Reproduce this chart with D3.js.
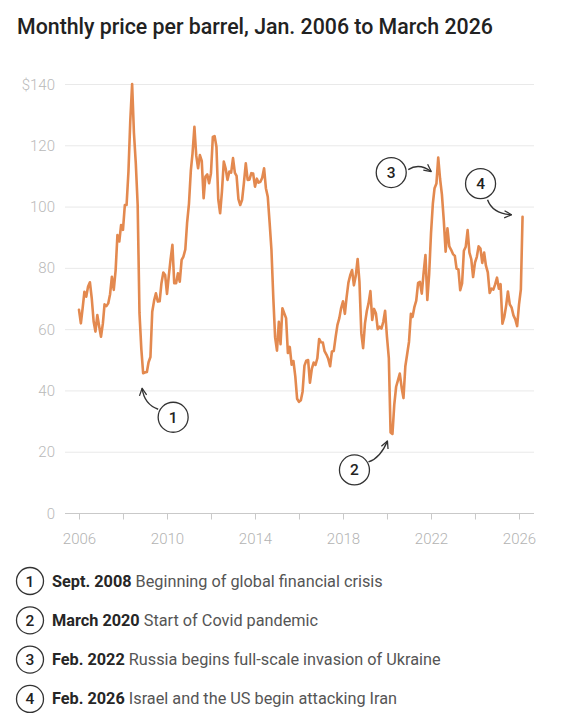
<!DOCTYPE html>
<html>
<head>
<meta charset="utf-8">
<script src="https://cdn.jsdelivr.net/npm/d3@7"></script>
<style>
  body { margin: 0; background: #fff; }
  svg text { font-family: Roboto, "Helvetica Neue", Arial, sans-serif; }
</style>
</head>
<body>
<div class="canvas"></div>
<script>
// Month-end price per barrel, one value per month from Jan. 2006
const firstMonth = new Date(2006, 0, 1);
const prices = [
  66.3, 61.9, 66.6, 72.2, 70.6, 73.9, 75.3, 70.0, 62.5, 59.2, 64.6, 61.0,        // 2006
  57.5, 61.8, 68.1, 67.5, 68.4, 71.4, 77.1, 72.8, 79.2, 90.7, 88.6, 94.0,        // 2007
  92.4, 100.5, 100.5, 111.4, 127.8, 140.0, 124.1, 114.1, 100.6, 65.3, 53.5, 45.6, // 2008
  45.9, 46.0, 49.2, 50.9, 65.7, 69.3, 71.7, 69.0, 69.1, 75.0, 78.5, 77.7,        // 2009
  71.5, 77.6, 82.7, 87.5, 75.0, 75.0, 78.2, 75.5, 82.6, 83.7, 86.0, 94.8,        // 2010
  101.0, 111.8, 117.4, 126.0, 116.7, 112.5, 116.8, 114.9, 102.7, 109.8, 110.5, 107.6, // 2011
  110.9, 122.7, 123.0, 119.5, 102.4, 97.8, 104.9, 114.7, 112.4, 108.7, 111.4, 111.1, // 2012
  115.8, 111.0, 110.0, 102.4, 100.5, 102.2, 107.7, 114.1, 108.7, 108.8, 110.9, 110.8, // 2013
  106.5, 109.1, 107.8, 108.1, 109.4, 112.5, 106.0, 103.2, 94.7, 85.9, 70.2, 57.3, // 2014
  53.0, 62.4, 55.1, 66.8, 65.2, 63.6, 52.2, 54.2, 48.4, 49.6, 44.6, 37.3,        // 2015
  36.3, 36.8, 39.6, 48.1, 49.7, 49.9, 42.5, 47.0, 49.1, 48.3, 50.5, 56.8,        // 2016
  55.7, 55.6, 52.8, 51.7, 50.3, 47.9, 52.7, 52.9, 57.5, 61.4, 63.6, 66.9,        // 2017
  69.1, 65.0, 70.3, 75.2, 77.6, 79.3, 74.3, 77.4, 82.9, 75.5, 58.7, 53.8,        // 2018
  61.9, 66.0, 68.4, 72.4, 63.0, 66.6, 65.2, 60.0, 60.8, 60.2, 62.4, 66.0,        // 2019
  57.5, 50.5, 26.3, 25.8, 35.3, 41.2, 43.3, 45.5, 40.9, 37.5, 47.9, 51.8,        // 2020
  55.9, 65.0, 64.0, 67.3, 69.3, 75.1, 75.4, 71.6, 78.5, 84.2, 69.5, 77.8,        // 2021
  91.2, 101.0, 106.0, 107.5, 116.0, 109.0, 104.0, 95.6, 85.3, 92.9, 87.0, 85.9,  // 2022
  84.5, 83.9, 79.8, 79.5, 72.7, 74.9, 85.6, 86.9, 92.3, 85.0, 82.8, 77.0,        // 2023
  81.7, 83.6, 87.0, 86.3, 81.6, 85.0, 80.7, 78.5, 71.8, 73.2, 72.9, 74.6,        // 2024
  76.8, 73.2, 74.7, 61.8, 63.9, 67.6, 72.3, 68.1, 67.0, 64.5, 63.2, 61.0,        // 2025
  68.0, 73.0, 96.7                                                               // 2026
];

const priceTicks = [0, 20, 40, 60, 80, 100, 120, 140];
const tickYears = [2006, 2008, 2010, 2012, 2014, 2016, 2018, 2020, 2022, 2024, 2026];
const labelYears = [2006, 2010, 2014, 2018, 2022, 2026];

const noteNumbers = ['1', '2', '3', '4'];
const noteMonths = [35, 171, 196, 242];   // index into prices the note refers to
const noteDates = ['Sept. 2008', 'March 2020', 'Feb. 2022', 'Feb. 2026'];
const noteTexts = [
  'Beginning of global financial crisis',
  'Start of Covid pandemic',
  'Russia begins full-scale invasion of Ukraine',
  'Israel and the US begin attacking Iran'
];

const dims = { width: 562, height: 720, gridLeft: 65, gridRight: 534, top: 84, bottom: 513 };
const lineColour = '#e3894f';

const svg = d3.select('.canvas')
  .append('svg')
  .attr('width', dims.width)
  .attr('height', dims.height);

const data = prices.map((value, i) => ({ date: d3.timeMonth.offset(firstMonth, i), value }));

const x = d3.scaleTime()
  .domain([new Date(2006, 0, 1), new Date(2026, 0, 1)])
  .range([79, 519]);

const y = d3.scaleLinear()
  .domain([0, 140])
  .range([dims.bottom, dims.top]);

// Title, stretched to the measured width of the original
const title = svg.append('text')
  .attr('x', 17)
  .attr('y', 34)
  .attr('fill', '#222')
  .attr('font-weight', 500)
  .attr('font-size', 20)
  .text('Monthly price per barrel, Jan. 2006 to March 2026');
const titleLen = title.node().getComputedTextLength();
title.attr('font-size', 20 * 476 / titleLen);

// Grid and y labels
const grid = svg.append('g');
grid.selectAll('line')
  .data(priceTicks)
  .enter()
  .append('line')
    .attr('x1', dims.gridLeft)
    .attr('x2', dims.gridRight)
    .attr('y1', d => y(d) + 0.5)
    .attr('y2', d => y(d) + 0.5)
    .attr('stroke', d => d === 0 ? '#c9c9c9' : '#e9e9e9')
    .attr('stroke-width', 1);

grid.selectAll('text')
  .data(priceTicks)
  .enter()
  .append('text')
    .attr('x', 55)
    .attr('y', d => y(d) + 5.5)
    .attr('text-anchor', 'end')
    .attr('fill', '#b9b9b9')
    .attr('font-size', 15)
    .attr('font-weight', 300)
    .text(d => d === 140 ? '$140' : d);

// X axis ticks and labels
const xAxis = d3.axisBottom(x)
  .tickValues(tickYears.map(yr => new Date(yr, 0, 1)))
  .tickSize(6)
  .tickPadding(14)
  .tickFormat(d => labelYears.includes(d.getFullYear()) ? d.getFullYear() : '');

const xAxisGroup = svg.append('g')
  .attr('transform', `translate(0, ${dims.bottom + 0.5})`)
  .call(xAxis);

xAxisGroup.select('.domain').remove();
xAxisGroup.selectAll('line').attr('stroke', '#c9c9c9');
xAxisGroup.selectAll('text')
  .attr('fill', '#b3b3b3')
  .attr('font-size', 15)
  .attr('font-weight', 300)
  .attr('font-family', null);

// Price line
const line = d3.line()
  .x(d => x(d.date))
  .y(d => y(d.value));

svg.append('path')
  .datum(data)
  .attr('fill', 'none')
  .attr('stroke', lineColour)
  .attr('stroke-width', 2.6)
  .attr('stroke-linejoin', 'round')
  .attr('stroke-linecap', 'round')
  .attr('d', line);

// Arrowhead
svg.append('defs')
  .append('marker')
    .attr('id', 'head')
    .attr('viewBox', '0 0 10 10')
    .attr('refX', 9)
    .attr('refY', 5)
    .attr('markerWidth', 9)
    .attr('markerHeight', 9)
    .attr('markerUnits', 'userSpaceOnUse')
    .attr('orient', 'auto')
  .append('path')
    .attr('d', 'M1,1 L9,5 L1,9')
    .attr('fill', 'none')
    .attr('stroke', '#333')
    .attr('stroke-width', 1.4)
    .attr('stroke-linejoin', 'round');

// Layout of each note relative to its data point: circle centre, arrow start, control, tip
const noteLayout = [
  { cx: 30, cy: 44, sx: 15, sy: 36, qx: 1, qy: 31, tx: -1, ty: 15 },
  { cx: -38, cy: 36, sx: -24, sy: 28, qx: -12, qy: 24, tx: -5, ty: 7 },
  { cx: -47, cy: 15, sx: -30, sy: 12, qx: -19, qy: 5, tx: -7, ty: 14 },
  { cx: -42, cy: -33, sx: -35, sy: -17, qx: -30, qy: -3, tx: -11, ty: -2 }
];

const notes = svg.append('g')
  .selectAll('g')
  .data(noteNumbers)
  .enter()
  .append('g')
  .attr('transform', (d, i) => {
    const p = data[noteMonths[i]];
    return `translate(${x(p.date)}, ${y(p.value)})`;
  });

notes.append('path')
  .attr('d', (d, i) => {
    const l = noteLayout[i];
    return `M${l.sx},${l.sy} Q${l.qx},${l.qy} ${l.tx},${l.ty}`;
  })
  .attr('fill', 'none')
  .attr('stroke', '#333')
  .attr('stroke-width', 1.4)
  .attr('marker-end', 'url(#head)');

notes.append('circle')
  .attr('cx', (d, i) => noteLayout[i].cx)
  .attr('cy', (d, i) => noteLayout[i].cy)
  .attr('r', 15)
  .attr('fill', '#fff')
  .attr('stroke', '#333')
  .attr('stroke-width', 1.3);

notes.append('text')
  .attr('x', (d, i) => noteLayout[i].cx)
  .attr('y', (d, i) => noteLayout[i].cy + 5.5)
  .attr('text-anchor', 'middle')
  .attr('font-size', 15.5)
  .attr('font-weight', 500)
  .attr('fill', '#222')
  .text(d => d);

// Legend
const legend = svg.append('g')
  .selectAll('g')
  .data(noteNumbers)
  .enter()
  .append('g')
  .attr('transform', (d, i) => `translate(0, ${581 + i * 39.3})`);

legend.append('circle')
  .attr('cx', 30)
  .attr('cy', 0)
  .attr('r', 13.5)
  .attr('fill', '#fff')
  .attr('stroke', '#333')
  .attr('stroke-width', 1.3);

legend.append('text')
  .attr('x', 30)
  .attr('y', 5.5)
  .attr('text-anchor', 'middle')
  .attr('font-size', 15.5)
  .attr('font-weight', 500)
  .attr('fill', '#222')
  .text(d => d);

const legendText = legend.append('text')
  .attr('x', 52)
  .attr('y', 5.5)
  .attr('font-size', 16);

legendText.append('tspan')
  .attr('font-weight', 700)
  .attr('fill', '#262626')
  .text((d, i) => noteDates[i]);

legendText.append('tspan')
  .attr('font-weight', 400)
  .attr('fill', '#555')
  .text((d, i) => ' ' + noteTexts[i]);

// fit the first legend line to the original width
const legendLen = legendText.node().getComputedTextLength();
legendText.attr('font-size', 16 * 331 / legendLen);
</script>
</body>
</html>
